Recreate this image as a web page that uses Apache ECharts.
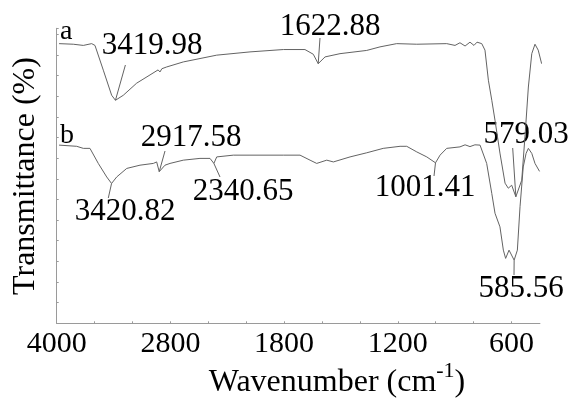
<!DOCTYPE html>
<html><head><meta charset="utf-8">
<script src="https://cdn.jsdelivr.net/npm/echarts/dist/echarts.min.js"></script>
<style>html,body{margin:0;padding:0;background:#fff}#c{width:569px;height:399px}</style>
</head><body><div id="c"></div>
<script>
// ---- data (wavenumber in cm-1, transmittance in arbitrary %) ----
const wnA = [3975,3825,3719,3631,3596,3508,3420,3380,3297,3156,3015,2930,2910,2890,2839,2664,2311,1980,1804,1690,1646,1620,1584,1505,1364,1294,1206,1100,942,898,872,845,819,798,782,757,740,722,704,687,661,634,617,599,577,546,529,511,493,476,459,441];
const tA  = [94.8,94.6,94.2,94.8,94.2,85.8,77.3,75.6,77.3,81.4,84.2,85.9,85.2,86.3,86.9,88.6,90.9,92.0,92.8,92.8,91.2,88.0,90.3,91.4,92.5,93.7,94.8,94.6,94.8,94.2,95.1,94.0,95.3,94.2,95.3,94.8,92.6,82.4,75.6,68.8,57.7,47.5,45.8,46.8,42.9,48.5,63.2,80.1,91.4,94.6,92.6,88.0];
const wnB = [3975,3789,3719,3649,3561,3472,3421,3367,3261,3121,2980,2945,2918,2857,2804,2664,2488,2382,2341,2311,2136,1980,1804,1716,1663,1628,1575,1540,1452,1364,1277,1188,1153,1100,1047,1001,977,942,872,845,819,793,766,757,731,704,687,661,643,631,613,586,569,555,538,523,511,493,476,452];
const tB  = [60.4,60.0,59.3,59.3,54.2,49.6,47.4,49.6,52.5,53.6,54.2,54.7,51.4,53.6,54.2,55.3,55.9,55.9,54.2,56.4,57.0,57.0,57.0,57.0,55.3,54.2,55.3,54.7,56.4,57.8,59.3,60.0,60.0,58.1,56.4,54.4,57.0,59.3,59.8,60.5,59.9,60.5,60.4,59.8,54.2,44.0,37.3,32.7,24.8,22.0,24.8,21.4,24.8,39.5,53.0,57.6,59.3,57.6,54.2,51.5];
const tickWn = [4000,3600,3200,2800,2400,2000,1800,1600,1400,1200,1000,800,600];
const tickLabels = ['4000','2800','1800','1200','600'];
const axisEndWn = 450;
const seriesNames = ['a','b'];
const peakLabels = ['3419.98','1622.88','579.03','3420.82','2917.58','2340.65','1001.41','585.56'];
const peakSeries = ['a','a','a','b','b','b','b','b'];
const peakWn     = [3380,1620,577,3421,2918,2341,1001,586];
const peakT      = [75.6,88.0,42.9,47.4,51.4,54.2,54.4,21.4];
const xNameParts = ['Wavenumber (cm', '-1', ')'];
const yName = 'Transmittance (%)';

// ---- layout (pixels) ----
const labelPos = [[152,46],[330,27],[526,135],[125,212],[191,138],[243,192],[425,188],[521,289]];
const leaderEnd = [[125.4,65],[320,38],[512.7,148],[108.3,198],[165,151],[220,177],[434,176],[514,275]];
const seriesTagPos = [[60,32],[60,136]];

// piecewise FTIR axis: 4000-2000 compressed, 2000-450 expanded
function toAxis(wn){ return wn >= 2000 ? (4000 - wn) / 400 : 5 + (2000 - wn) / 200; }
function fromAxis(u){ return u <= 5 ? 4000 - 400 * u : 2000 - 200 * (u - 5); }

const chart = echarts.init(document.getElementById('c'), null, {renderer:'canvas'});
const FONT = "'Liberation Serif', serif";
const lineColor = '#636363';
const axisColor = '#9a9a9a';

chart.setOption({
  animation:false,
  backgroundColor:'#fff',
  grid:{left:56.7, top:28.3, right:569-56.7-37.9*toAxis(axisEndWn), bottom:75.7, containLabel:false, outerBoundsMode:'none'},
  xAxis:{
    type:'value', min:0, max:toAxis(axisEndWn), interval:1,
    axisLine:{show:true, lineStyle:{color:axisColor, width:1}},
    axisTick:{show:true, inside:true, length:2, lineStyle:{color:axisColor}},
    splitLine:{show:false},
    axisLabel:{show:true, margin:6, color:'#000', fontFamily:FONT, fontSize:30, showMinLabel:true, showMaxLabel:false,
      formatter:function(v){ const w = Math.round(fromAxis(v)); return tickLabels.indexOf(String(w))>=0 && tickWn.indexOf(w)>=0 ? String(w) : ''; }}
  },
  yAxis:{
    type:'value', min:0, max:100, interval:7,
    axisLine:{show:true, lineStyle:{color:axisColor, width:1}},
    axisTick:{show:true, inside:true, length:2, lineStyle:{color:axisColor}},
    axisLabel:{show:false}, splitLine:{show:false}
  },
  series:[
    {name:seriesNames[0], type:'line', showSymbol:false, clip:false, data:wnA.map((w,i)=>[toAxis(w), tA[i]]), lineStyle:{color:lineColor, width:1}},
    {name:seriesNames[1], type:'line', showSymbol:false, clip:false, data:wnB.map((w,i)=>[toAxis(w), tB[i]]), lineStyle:{color:lineColor, width:1}}
  ]
});

const g = [];
peakLabels.forEach((txt,i)=>{
  const p = chart.convertToPixel({gridIndex:0}, [toAxis(peakWn[i]), peakT[i]]);
  g.push({type:'line', silent:true, shape:{x1:p[0], y1:p[1], x2:leaderEnd[i][0], y2:leaderEnd[i][1]}, style:{stroke:lineColor, lineWidth:1}});
  g.push({type:'text', silent:true, x:labelPos[i][0], y:labelPos[i][1], style:{text:txt, font:'31px '+FONT, fill:'#000', textAlign:'center', textVerticalAlign:'middle'}});
});
seriesNames.forEach((n,i)=>{
  g.push({type:'text', silent:true, x:seriesTagPos[i][0], y:seriesTagPos[i][1], style:{text:n, font:'28px '+FONT, fill:'#000', textAlign:'left', textVerticalAlign:'middle'}});
});
// x-axis name with a real superscript
const ctx = document.createElement('canvas').getContext('2d');
const mainFont = '32px ' + FONT, supFont = '22px ' + FONT;
ctx.font = mainFont; const w1 = ctx.measureText(xNameParts[0]).width, w3 = ctx.measureText(xNameParts[2]).width;
ctx.font = supFont;  const w2 = ctx.measureText(xNameParts[1]).width;
let x0 = 337 - (w1 + w2 + w3) / 2;
g.push({type:'text', silent:true, x:x0, y:382.5, style:{text:xNameParts[0], font:mainFont, fill:'#000', textAlign:'left', textVerticalAlign:'middle'}});
g.push({type:'text', silent:true, x:x0 + w1, y:371, style:{text:xNameParts[1], font:supFont, fill:'#000', textAlign:'left', textVerticalAlign:'middle'}});
g.push({type:'text', silent:true, x:x0 + w1 + w2, y:382.5, style:{text:xNameParts[2], font:mainFont, fill:'#000', textAlign:'left', textVerticalAlign:'middle'}});
g.push({type:'text', silent:true, x:26, y:176, rotation:Math.PI/2, style:{text:yName, font:'32px '+FONT, fill:'#000', textAlign:'center', textVerticalAlign:'middle'}});
chart.setOption({graphic:g});
</script>
</body></html>
